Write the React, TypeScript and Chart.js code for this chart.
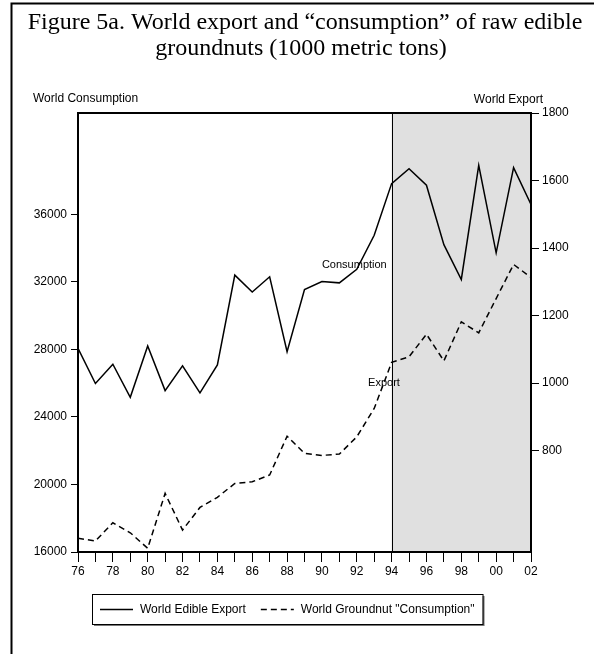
import React, { useEffect, useRef } from "react";
import { Chart, registerables } from "chart.js";

Chart.register(...registerables);

const years = [1976, 1977, 1978, 1979, 1980, 1981, 1982, 1983, 1984, 1985, 1986, 1987, 1988, 1989, 1990, 1991, 1992, 1993, 1994, 1995, 1996, 1997, 1998, 1999, 2000, 2001, 2002];
const exportValues = [1103, 999, 1056, 958, 1110, 978, 1051, 971, 1054, 1320, 1270, 1315, 1093, 1277, 1301, 1297, 1337, 1438, 1591, 1635, 1586, 1410, 1307, 1645, 1386, 1638, 1529];
const consumptionValues = [16810, 16650, 17730, 17140, 16220, 19470, 17300, 18640, 19240, 20060, 20160, 20560, 22860, 21840, 21720, 21800, 22820, 24500, 27230, 27560, 28900, 27320, 29630, 28980, 31010, 33030, 32260];
const leftTicks = [16000, 20000, 24000, 28000, 32000, 36000];
const rightTicks = [800, 1000, 1200, 1400, 1600, 1800];
const titleLines = ["Figure 5a. World export and \u201cconsumption\u201d of raw edible", "groundnuts (1000 metric tons)"];
const seriesLabels = ["World Edible Export", 'World Groundnut "Consumption"'];
const leftAxisTitle = "World Consumption";
const rightAxisTitle = "World Export";
const shadeFrom = 1994;
const annotations = [
  { text: "Consumption", x: 1990, y: 1350 },
  { text: "Export", x: 1992.65, y: 1000 },
];

const SANS = '"Liberation Sans", Arial, sans-serif';
const SERIF = '"Liberation Serif", "Times New Roman", serif';

const decor = {
  id: "decor",
  beforeDatasetsDraw(chart: any) {
    const { ctx, chartArea: a, scales } = chart;
    const xs = scales.x.getPixelForValue(shadeFrom);
    ctx.save();
    ctx.fillStyle = "#e0e0e0";
    ctx.fillRect(xs, a.top, a.right - xs, a.bottom - a.top);
    ctx.strokeStyle = "#000";
    ctx.lineWidth = 1;
    ctx.beginPath();
    ctx.moveTo(Math.round(xs) + 0.5, a.top);
    ctx.lineTo(Math.round(xs) + 0.5, a.bottom);
    ctx.stroke();
    ctx.restore();
  },
  afterDraw(chart: any) {
    const { ctx, chartArea: a, scales } = chart;
    ctx.save();
    // plot box
    ctx.strokeStyle = "#000";
    ctx.lineWidth = 2;
    ctx.strokeRect(a.left, a.top, a.right - a.left, a.bottom - a.top);
    // outer frame
    ctx.beginPath();
    ctx.moveTo(11.5, 660);
    ctx.lineTo(11.5, 3.5);
    ctx.lineTo(600, 3.5);
    ctx.stroke();
    // title
    ctx.fillStyle = "#000";
    ctx.textAlign = "center";
    ctx.textBaseline = "middle";
    ctx.font = `24px ${SERIF}`;
    ctx.fillText(titleLines[0], 305, 23);
    ctx.fillText(titleLines[1], 301, 49);
    // axis titles
    ctx.font = `12px ${SANS}`;
    ctx.textAlign = "left";
    ctx.fillText(leftAxisTitle, 33, 99);
    ctx.textAlign = "right";
    ctx.fillText(rightAxisTitle, 543, 100);
    // annotations
    ctx.font = `11px ${SANS}`;
    ctx.textAlign = "left";
    for (const an of annotations) {
      ctx.fillText(an.text, scales.x.getPixelForValue(an.x), scales.yR.getPixelForValue(an.y));
    }
    // legend
    ctx.font = `12px ${SANS}`;
    const w1 = ctx.measureText(seriesLabels[0]).width;
    const w2 = ctx.measureText(seriesLabels[1]).width;
    const lineLen = 33;
    const pad = 8;
    const total = pad + lineLen + 7 + w1 + 15 + lineLen + 7 + w2 + pad;
    const cx = 287;
    const bx = Math.round(cx - total / 2);
    const by = 594;
    const bh = 30;
    ctx.fillStyle = "#777";
    ctx.fillRect(bx + 2, by + 2, total, bh);
    ctx.fillStyle = "#fff";
    ctx.fillRect(bx, by, total, bh);
    ctx.strokeStyle = "#000";
    ctx.lineWidth = 1;
    ctx.strokeRect(bx + 0.5, by + 0.5, total, bh);
    const ly = by + bh / 2;
    const ds = chart.data.datasets;
    let x = bx + pad;
    for (let i = 0; i < 2; i++) {
      ctx.beginPath();
      ctx.setLineDash(ds[i].borderDash || []);
      ctx.lineWidth = 1.5;
      ctx.moveTo(x, ly + 0.5);
      ctx.lineTo(x + lineLen, ly + 0.5);
      ctx.stroke();
      ctx.setLineDash([]);
      x += lineLen + 7;
      ctx.fillStyle = "#000";
      ctx.textAlign = "left";
      ctx.fillText(seriesLabels[i], x, ly + 1);
      x += (i === 0 ? w1 : w2) + 15;
    }
    ctx.restore();
  },
};

export default function App() {
  const ref = useRef<HTMLCanvasElement>(null);
  useEffect(() => {
    const tickFont = { family: SANS, size: 12 };
    const chart = new Chart(ref.current!, {
      type: "line",
      data: {
        datasets: [
          {
            label: seriesLabels[0],
            data: years.map((y, i) => ({ x: y, y: exportValues[i] })),
            yAxisID: "yR",
            borderColor: "#000",
            borderWidth: 1.5,
            pointRadius: 0,
            tension: 0,
            fill: false,
          },
          {
            label: seriesLabels[1],
            data: years.map((y, i) => ({ x: y, y: consumptionValues[i] })),
            yAxisID: "yL",
            borderColor: "#000",
            borderWidth: 1.5,
            borderDash: [6, 4],
            pointRadius: 0,
            tension: 0,
            fill: false,
          },
        ],
      },
      options: {
        responsive: false,
        animation: false,
        devicePixelRatio: 1,
        layout: { padding: { top: 113, left: 0, right: 0, bottom: 0 } },
        plugins: { legend: { display: false }, title: { display: false }, tooltip: { enabled: false } },
        scales: {
          x: {
            type: "linear",
            position: "bottom",
            min: 1976,
            max: 2002,
            afterBuildTicks: (s: any) => { s.ticks = years.map((v) => ({ value: v })); },
            afterFit: (s: any) => { s.height = 102; },
            ticks: {
              autoSkip: false,
              maxRotation: 0,
              color: "#000",
              font: tickFont,
              padding: 2,
              callback: (v: any) => (Number(v) % 2 === 0 ? String(Number(v) % 100).padStart(2, "0") : ""),
            },
            grid: { drawOnChartArea: false, drawTicks: true, tickLength: 10, color: "#000", lineWidth: 1 },
            border: { display: false },
          },
          yL: {
            type: "linear",
            position: "left",
            min: 16000,
            max: 42000,
            afterBuildTicks: (s: any) => { s.ticks = leftTicks.map((v) => ({ value: v })); },
            afterFit: (s: any) => { s.width = 78; },
            ticks: { color: "#000", font: tickFont, padding: 4, callback: (v: any) => String(v) },
            grid: { drawOnChartArea: false, drawTicks: true, tickLength: 7, color: "#000", lineWidth: 1 },
            border: { display: false },
          },
          yR: {
            type: "linear",
            position: "right",
            min: 500,
            max: 1800,
            afterBuildTicks: (s: any) => { s.ticks = rightTicks.map((v) => ({ value: v })); },
            afterFit: (s: any) => { s.width = 63; },
            ticks: { color: "#000", font: tickFont, padding: 3, callback: (v: any) => String(v) },
            grid: { drawOnChartArea: false, drawTicks: true, tickLength: 8, color: "#000", lineWidth: 1 },
            border: { display: false },
          },
        },
      },
      plugins: [decor],
    });
    return () => chart.destroy();
  }, []);
  return (
    <div style={{ position: "fixed", left: 0, top: 0, width: 594, height: 654, background: "#fff" }}>
      <canvas ref={ref} width={594} height={654} style={{ display: "block", width: 594, height: 654 }} />
    </div>
  );
}
